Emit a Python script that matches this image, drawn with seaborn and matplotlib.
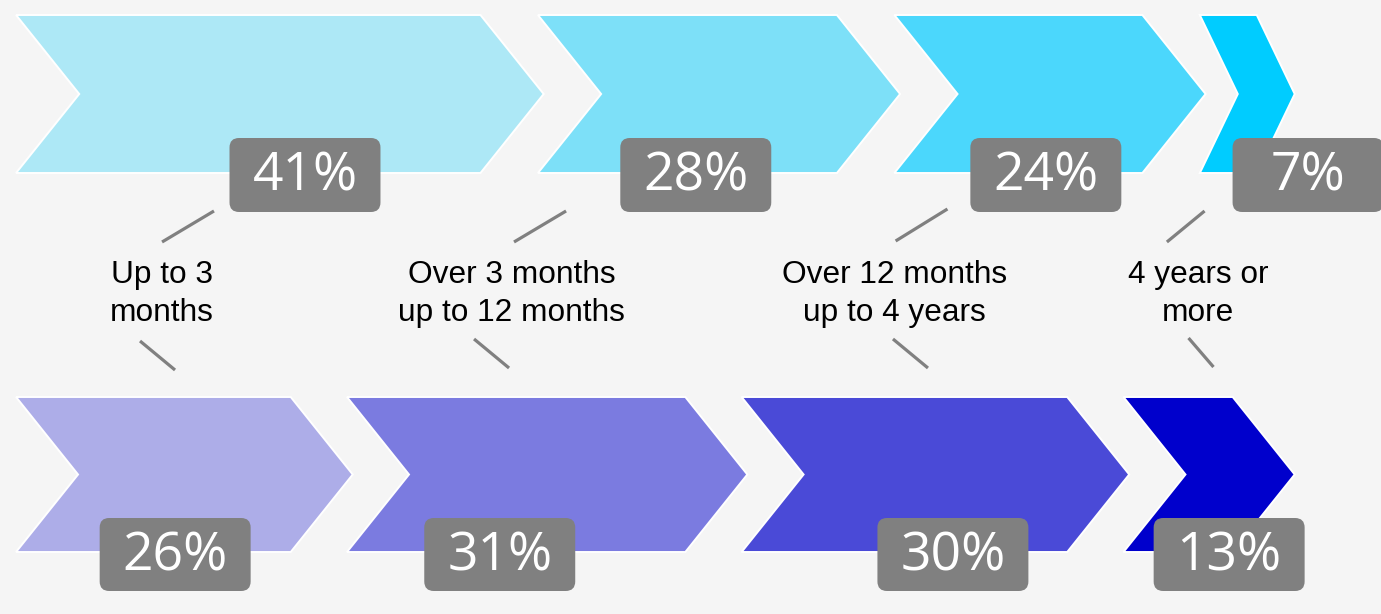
import matplotlib
matplotlib.use("Agg")
import matplotlib.pyplot as plt
from matplotlib.patches import Polygon, FancyBboxPatch
import seaborn as sns

# Share of respondents per duration band, two groups
categories = ["Up to 3\nmonths", "Over 3 months\nup to 12 months",
              "Over 12 months\nup to 4 years", "4 years or\nmore"]
top_values = [41, 28, 24, 7]
bottom_values = [26, 31, 30, 13]
top_colors = ["#ADE8F6", "#7DE0F8", "#4BD7FC", "#00CCFF"]
bottom_colors = ["#ADADE8", "#7B7BE0", "#4A4AD7", "#0000CC"]

BG = "#F5F5F5"
BOX = "#808080"

sns.set_theme(style="white", rc={"axes.facecolor": BG, "figure.facecolor": BG})

W_PX, H_PX = 1381, 614
fig = plt.figure(figsize=(W_PX / 100, H_PX / 100), dpi=100)
ax = fig.add_axes([0, 0, 1, 1])
X_LEFT, X_RIGHT = -1.26, 107.23          # percent scale across the width
ax.set_xlim(X_LEFT, X_RIGHT)
ax.set_ylim(H_PX, 0)
ax.axis("off")
px_per_unit = W_PX / (X_RIGHT - X_LEFT)   # horizontal pixels per percent point

# vertical extent of each chevron row and of the value boxes
TOP_ROW = (15, 173)
BOTTOM_ROW = (397, 552)
TOP_BOX = (138, 212)
BOTTOM_BOX = (518, 591)
BOX_W = 11.86
BOX_R = 0.75
OVERLAP = 0.45

# where each value box sits, measured from the start of its chevron
top_box_offsets = [22.7, 12.4, 11.9, 8.5]
bottom_box_offsets = [12.5, 12.0, 16.6, 8.3]


def chevron(x0, width, y0, y1, color):
    h = y1 - y0
    depth = 0.4 * min(width * px_per_unit, h) / px_per_unit
    ym = (y0 + y1) / 2
    pts = [(x0, y0), (x0 + width - depth, y0), (x0 + width, ym),
           (x0 + width - depth, y1), (x0, y1), (x0 + depth, ym)]
    ax.add_patch(Polygon(pts, closed=True, facecolor=color,
                         edgecolor="white", linewidth=1.4, joinstyle="miter"))


def value_box(xc, y0, y1, value):
    ax.add_patch(FancyBboxPatch((xc - BOX_W / 2, y0), BOX_W, y1 - y0,
                                boxstyle=f"round,pad=0,rounding_size={BOX_R}",
                                mutation_aspect=px_per_unit,
                                facecolor=BOX, edgecolor="none", zorder=3))
    ax.text(xc, (y0 + y1) / 2 + 2, f"{value}%", ha="center", va="center",
            color="white", fontsize=38.5, family="Open Sans", zorder=4)


def draw_row(values, colors, row, box, offsets):
    start = 0
    for v, c, off in zip(values, colors, offsets):
        chevron(start, v + OVERLAP, row[0], row[1], c)
        value_box(start + off, box[0], box[1], v)
        start += v


draw_row(top_values, top_colors, TOP_ROW, TOP_BOX, top_box_offsets)
draw_row(bottom_values, bottom_colors, BOTTOM_ROW, BOTTOM_BOX, bottom_box_offsets)

# category captions between the rows, with short connector strokes
label_x = [11.47, 38.92, 69.02, 92.85]
upper_links = [((11.47, 242), (15.55, 211)), ((39.12, 242), (43.21, 211)),
               ((69.10, 241), (73.17, 209)), ((90.41, 242), (93.37, 211))]
lower_links = [((9.74, 341), (12.49, 370)), ((35.98, 339), (38.73, 368)),
               ((68.89, 339), (71.64, 368)), ((92.11, 338), (94.07, 367))]

for x, text, up, low in zip(label_x, categories, upper_links, lower_links):
    ax.text(x, 294, text, ha="center", va="center", fontsize=22.8,
            family="Liberation Sans", color="black", linespacing=1.35)
    for (xa, ya), (xb, yb) in (up, low):
        ax.plot([xa, xb], [ya, yb], color=BOX, linewidth=2.3,
                solid_capstyle="butt")

fig.savefig("out.png", dpi=100, facecolor=BG)
